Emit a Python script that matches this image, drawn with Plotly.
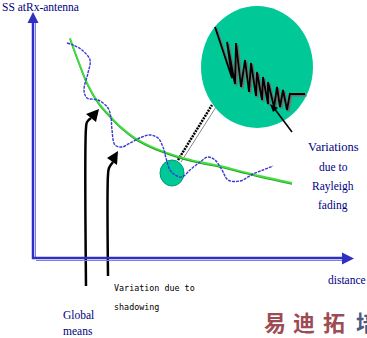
import plotly.graph_objects as go

# ---- data (diagram coordinates: distance to the right, signal level downward) ----
mean_d = [70, 78, 88, 98, 110, 122, 135, 150, 165, 180, 200, 220, 240, 260, 292]
mean_lvl = [38, 60, 85, 102, 116, 128, 138, 146, 152, 157, 162, 166, 171, 176, 183]

shadow_d = [67, 73, 82, 90, 88, 84, 87, 98, 108, 111, 112, 115, 122, 130, 142, 150, 158,
            163, 166, 170, 175, 182, 190, 200, 208, 215, 222, 228, 240, 253, 263, 273]
shadow_lvl = [43, 45, 50, 60, 73, 90, 98, 100, 108, 118, 130, 145, 147, 143, 137, 135, 138,
              147, 158, 170, 175, 177, 170, 162, 157, 160, 170, 180, 181, 174, 170, 166]

fade_d = [215, 232, 227, 235, 236, 241, 245, 249, 251, 256, 257, 262, 263, 268, 268, 274,
          277, 280, 283, 287, 290, 290, 305]
fade_lvl = [27, 78, 42, 84, 43, 87, 60, 92, 63, 96, 72, 100, 77, 104, 82, 107,
            87, 107, 90, 110, 93, 94, 94]

W, H = 367, 338
axis_dark = "#2f2fc4"
axis_light = "#7c7cf0"
navy = "#000080"
teal = "#00c897"

fig = go.Figure()

shapes = [
    dict(type="line", x0=33, y0=259, x1=33, y1=20, line=dict(color=axis_dark, width=2.5)),
    dict(type="line", x0=35.5, y0=258, x1=35.5, y1=22, line=dict(color=axis_light, width=1)),
    dict(type="line", x0=32, y0=258, x1=345, y1=258, line=dict(color=axis_dark, width=2.5)),
    dict(type="line", x0=36, y0=260.5, x1=343, y1=260.5, line=dict(color=axis_light, width=1)),
    dict(type="path", path="M 33 12 L 27.5 23 L 38.5 23 Z", fillcolor=axis_dark, line=dict(color=axis_dark, width=0)),
    dict(type="path", path="M 354 258.5 L 342 252.5 L 342 264.5 Z", fillcolor=axis_dark, line=dict(color=axis_dark, width=0)),
    dict(type="circle", x0=201, y0=6, x1=313, y1=128, fillcolor=teal, line=dict(color=teal, width=0), layer="below"),
    dict(type="circle", x0=160, y0=160, x1=184, y1=186, fillcolor=teal, line=dict(color="#009a74", width=1), layer="below"),
]

# connector between small and big circle
fig.add_trace(go.Scatter(x=[181, 216], y=[162, 107], mode="lines",
                         line=dict(color="#888888", width=1), hoverinfo="skip"))
fig.add_trace(go.Scatter(x=[178, 212], y=[160, 105], mode="lines",
                         line=dict(color="black", width=2.5, dash="2px,1px"), hoverinfo="skip"))

# mean (green)
fig.add_trace(go.Scatter(x=mean_d, y=[v + 1 for v in mean_lvl], mode="lines",
                         line=dict(color="#1f9a1f", width=1.5, shape="spline"), hoverinfo="skip"))
fig.add_trace(go.Scatter(x=mean_d, y=mean_lvl, mode="lines",
                         line=dict(color="#44dd44", width=1.8, shape="spline"), hoverinfo="skip"))

# shadowing (blue dashed)
fig.add_trace(go.Scatter(x=shadow_d, y=shadow_lvl, mode="lines",
                         line=dict(color="#3a3ad0", width=1.4, shape="spline", dash="3px,1px"), hoverinfo="skip"))

# fading zigzag inside big circle
fig.add_trace(go.Scatter(x=[v + 1.5 for v in fade_d], y=[v + 1.5 for v in fade_lvl], mode="lines",
                         line=dict(color="#707070", width=2), hoverinfo="skip"))
fig.add_trace(go.Scatter(x=fade_d, y=fade_lvl, mode="lines", line=dict(color="black", width=1.8), hoverinfo="skip"))

# pointer into big circle
fig.add_trace(go.Scatter(x=[292, 274], y=[132, 108], mode="lines", line=dict(color="black", width=1.5), hoverinfo="skip"))

# black arrows from labels
fig.add_trace(go.Scatter(x=[86, 86, 87, 91], y=[286, 128, 122, 118], mode="lines",
                         line=dict(color="black", width=2.5, shape="spline"), hoverinfo="skip"))
fig.add_trace(go.Scatter(x=[108, 108, 109, 113], y=[276, 175, 168, 162], mode="lines",
                         line=dict(color="black", width=2.5, shape="spline"), hoverinfo="skip"))
shapes += [
    dict(type="path", path="M 99 109 L 86 114 L 96 122 Z", fillcolor="black", line=dict(color="black", width=0)),
    dict(type="path", path="M 118 151 L 107 158 L 117 165 Z", fillcolor="black", line=dict(color="black", width=0)),
    dict(type="path", path="M 270 104 L 278 108 L 273 112 Z", fillcolor="black", line=dict(color="black", width=0)),
]

serif = "Liberation Serif"
mono = "DejaVu Sans Mono"
ann = [
    dict(x=0, y=7, text="SS atRx-antenna", xanchor="left", yanchor="middle",
         font=dict(family=serif, size=11.5, color=navy)),
    dict(x=326, y=280, text="distance", xanchor="left", yanchor="middle",
         font=dict(family=serif, size=11.5, color=navy)),
    dict(x=112, y=288, text="Variation due to", xanchor="left", yanchor="middle",
         font=dict(family=mono, size=8.4, color="black")),
    dict(x=112, y=307, text="shadowing", xanchor="left", yanchor="middle",
         font=dict(family=mono, size=8.4, color="black")),
    dict(x=61, y=315, text="Global", xanchor="left", yanchor="middle",
         font=dict(family=serif, size=11.5, color=navy)),
    dict(x=61, y=331, text="means", xanchor="left", yanchor="middle",
         font=dict(family=serif, size=11.5, color=navy)),
    dict(x=333, y=147, text="Variations", xanchor="center", yanchor="middle",
         font=dict(family=serif, size=12.5, color=navy)),
    dict(x=333, y=167, text="due to", xanchor="center", yanchor="middle",
         font=dict(family=serif, size=11.5, color=navy)),
    dict(x=333, y=186, text="Rayleigh", xanchor="center", yanchor="middle",
         font=dict(family=serif, size=11.5, color=navy)),
    dict(x=333, y=205, text="fading", xanchor="center", yanchor="middle",
         font=dict(family=serif, size=11.5, color=navy)),
]
wm_chars = ["易", "迪", "拓", "培"]
wm_x = [262, 291, 321, 354]
wm_col = ["#9c4c52", "#9c4c52", "#9c4c52", "#4a5a80"]
for ch, xx, cc in zip(wm_chars, wm_x, wm_col):
    ann.append(dict(x=xx, y=321, text="<b>" + ch + "</b>", xanchor="left", yanchor="middle",
                    font=dict(family="Noto Sans CJK SC", size=22, color=cc)))
for a in ann:
    a.update(xref="x", yref="y", showarrow=False)

fig.update_layout(
    width=W, height=H, margin=dict(l=0, r=0, t=0, b=0),
    paper_bgcolor="white", plot_bgcolor="white", showlegend=False,
    xaxis=dict(range=[0, W], visible=False, fixedrange=True),
    yaxis=dict(range=[H, 0], visible=False, fixedrange=True),
    shapes=shapes, annotations=ann,
)
fig.write_html("out.html")
